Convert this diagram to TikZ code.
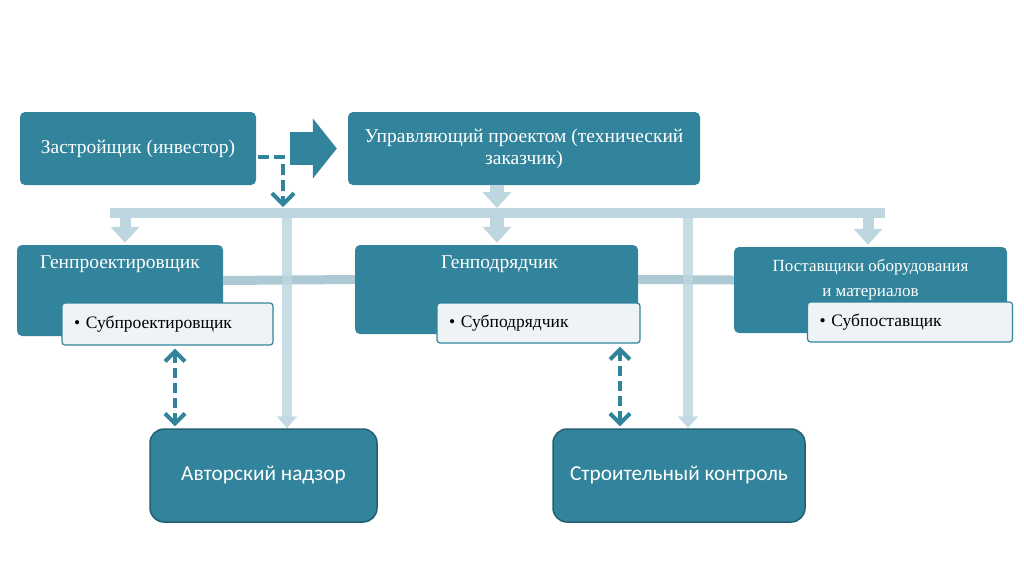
\documentclass[tikz,border=0pt]{standalone}
\usepackage{fontspec}
\setmainfont{Liberation Serif}
\newfontfamily\calibrifont{Carlito}
\usetikzlibrary{arrows.meta}

\definecolor{tealbox}{HTML}{31849B}
\definecolor{tealedge}{HTML}{245F73}
\definecolor{palebar}{HTML}{BDD6E0}
\definecolor{midbar}{HTML}{ADC9D4}
\definecolor{subfill}{HTML}{EEF4F6}

\begin{document}
\begin{tikzpicture}[x=1pt,y=-1pt,
    mainbox/.style={fill=tealbox, rounded corners=5pt, text=white, inner sep=0pt,
        font=\fontsize{19.5}{22}\selectfont},
    headtext/.style={anchor=north, yshift=-11pt, inner sep=0pt, text=white, align=center,
        font=\fontsize{19.5}{24}\selectfont},
    subbox/.style={draw=tealbox, line width=1.2pt, fill=subfill, rounded corners=3pt,
        align=left, inner xsep=12pt, inner ysep=0pt, text=black,
        font=\fontsize{17.5}{20}\selectfont},
    ctrlbox/.style={draw=tealedge, line width=1.5pt, fill=tealbox, rounded corners=14pt,
        text=white, minimum height=93pt, font=\calibrifont\fontsize{21.3}{25}\selectfont},
    bus/.style={palebar, line width=10pt},
    palearrow/.style={palebar, line width=14pt, -{Triangle[width=28pt,length=16pt]}},
    thinarrow/.style={palebar, opacity=0.85, line width=10pt, -{Triangle[width=20pt,length=12pt]}},
    dasharrow/.style={tealbox, line width=4pt, dash pattern=on 10pt off 5pt,
        {Straight Barb[width=20pt,length=10pt]}-{Straight Barb[width=20pt,length=10pt]},
        shorten <=3pt, shorten >=2pt}]
    \useasboundingbox (0,0) rectangle (1024,574);

    % top row
    \node[mainbox, minimum width=236pt, minimum height=73pt] (zas) at (138,148.5) {Застройщик (инвестор)};
    \node[mainbox, minimum width=352pt, minimum height=73pt, align=center] (upr) at (524,148.5)
        {Управляющий проектом (технический\\заказчик)};

    % points on the bus
    \coordinate (bl) at (110,213);
    \coordinate (br) at (885,213);
    \coordinate (b1) at (125,213);
    \coordinate (b2) at (497,213);
    \coordinate (b3) at (868,213);
    \coordinate (b4) at (287,213);
    \coordinate (b5) at (688,213);
    \coordinate (dz) at (283,207);

    % middle row
    \node[mainbox, minimum width=206pt, minimum height=91pt,
        label={[headtext]north:Генпроектировщик}] (genpr) at (120,290.5) {};
    \node[mainbox, minimum width=283pt, minimum height=89pt,
        label={[headtext, xshift=3pt]north:Генподрядчик}] (genpd) at (496.5,289.5) {};
    \node[mainbox, minimum width=273pt, minimum height=86pt,
        label={[headtext, yshift=-1pt, font=\fontsize{17}{25}\selectfont]north:Поставщики оборудования\\и материалов}] (post) at (870.5,290) {};

    \node[subbox, minimum height=42pt, text width=187pt] (subpr) at (167.5,324) {• Субпроектировщик};
    \node[subbox, minimum height=40pt, text width=179pt] (subpd) at (538.5,323) {• Субподрядчик};
    \node[subbox, minimum height=40pt, text width=181pt] (subpo) at (910,322) {• Субпоставщик};

    % bottom row
    \node[ctrlbox, minimum width=227pt] (avt) at (263.5,475.5) {Авторский надзор};
    \node[ctrlbox, minimum width=252pt] (str) at (679,475.5) {Строительный контроль};

    % connectors
    \draw[bus] (bl) -- (br);
    \draw[midbar, line width=9pt] ([yshift=10pt]genpr.east) -- ([yshift=10pt]genpd.west);
    \draw[midbar, line width=9pt] ([yshift=10pt]genpd.east) -- ([yshift=10pt]post.west);

    \draw[palearrow, shorten >=5pt] (b2 |- upr.south) -- (b2);
    \draw[palearrow, line width=11pt, shorten >=2pt] (b1) -- (b1 |- genpr.north);
    \draw[palearrow, shorten >=2pt] (b2) -- (b2 |- genpd.north);
    \draw[palearrow, line width=11pt, shorten >=2pt] (b3) -- (b3 |- post.north);
    \draw[thinarrow] (b4) -- (b4 |- avt.north);
    \draw[thinarrow] (b5) -- (b5 |- str.north);

    \draw[tealbox, line width=33pt, -{Triangle[width=59pt,length=24pt]},
        shorten <=34pt, shorten >=11pt] (zas.east) -- (upr.west);
    \draw[tealbox, line width=4pt, dash pattern=on 11pt off 5pt,
        -{Straight Barb[width=22pt,length=11pt]}] ([xshift=2pt,yshift=-8.5pt]zas.east) -| (dz);

    \draw[dasharrow] ([xshift=7.5pt]subpr.south) -- ([xshift=7.5pt]subpr.south |- avt.north);
    \draw[dasharrow] ([xshift=81.5pt]subpd.south) -- ([xshift=81.5pt]subpd.south |- str.north);
\end{tikzpicture}
\end{document}
